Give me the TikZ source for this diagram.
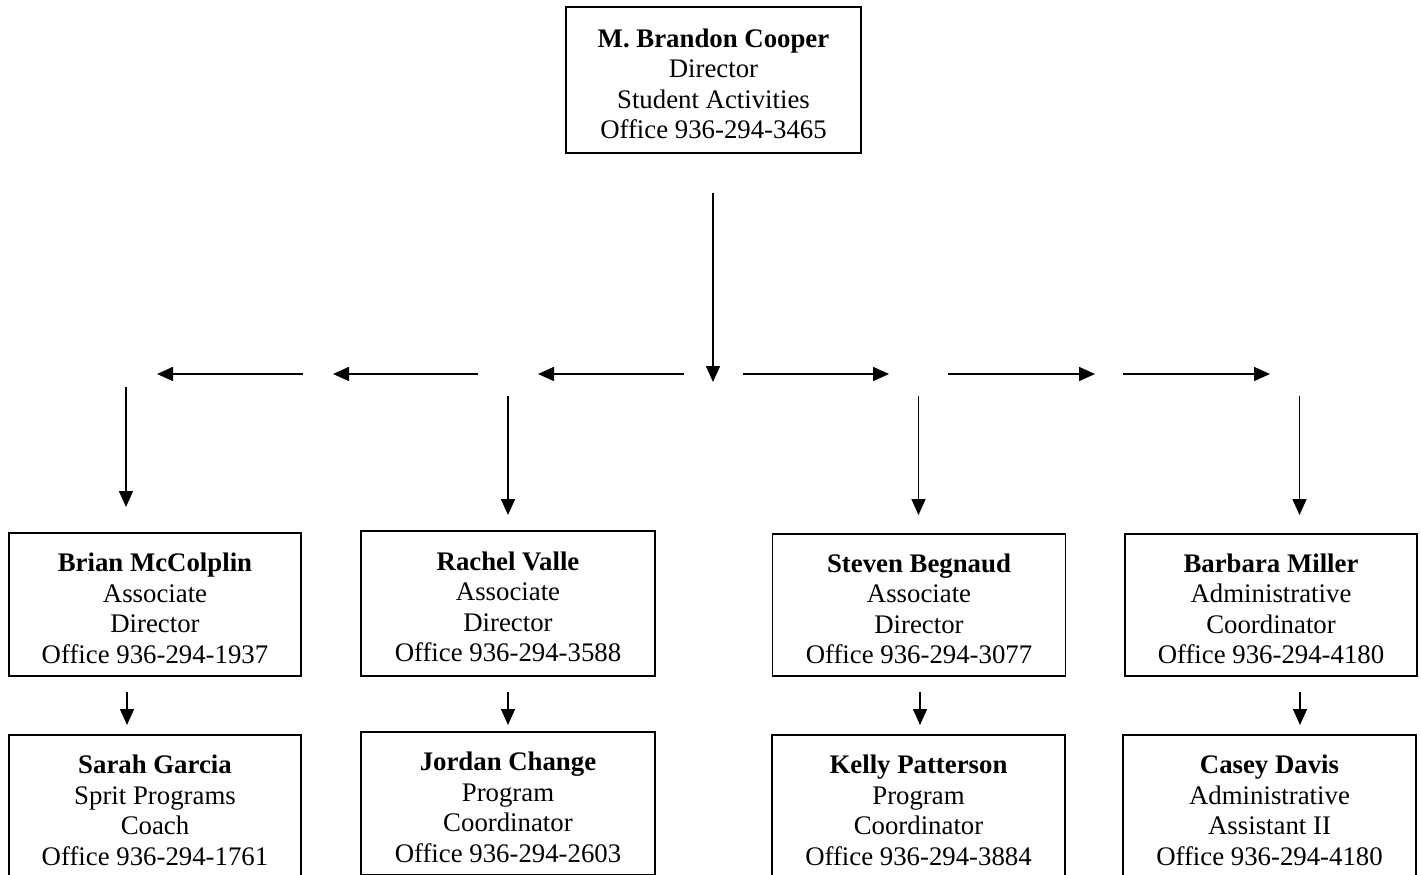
\documentclass[tikz,border=0pt]{standalone}
\usepackage{fontspec}
\setmainfont{Liberation Serif}
\usetikzlibrary{arrows.meta}
\newcommand{\nm}[1]{\rule{0pt}{26pt}\textbf{#1}}
\begin{document}
\begin{tikzpicture}[x=1pt,y=-1pt,
  box/.style={draw,line width=1.6pt,inner sep=0pt,align=center,
    font=\fontsize{26.8}{30.5}\selectfont,minimum height=143pt},
  arr/.style={line width=1.6pt,-{Triangle[length=16pt,width=14pt]}}]
\useasboundingbox (0,0) rectangle (1421,875);
\fill[white] (0,0) rectangle (1421,875);
% boxes
\node[box,minimum width=295pt,minimum height=146pt] (top) at (713.5,80) {\nm{M. Brandon Cooper}\\Director\\Student Activities\\Office 936-294-3465};
\node[box,minimum width=292pt] (brian) at (155,604.5) {\nm{Brian McColplin}\\Associate\\Director\\Office 936-294-1937};
\node[box,minimum width=294pt,minimum height=145pt] (rachel) at (508,603.3) {\nm{Rachel Valle}\\Associate\\Director\\Office 936-294-3588};
\node[box,minimum width=293pt,minimum height=142pt] (steven) at (919,605) {\nm{Steven Begnaud}\\Associate\\Director\\Office 936-294-3077};
\node[box,minimum width=292.5pt,minimum height=142pt] (barbara) at (1271,605) {\nm{Barbara Miller}\\Administrative\\Coordinator\\Office 936-294-4180};
\node[box,minimum width=292pt] (sarah) at (155,806.5) {\nm{Sarah Garcia}\\Sprit Programs\\Coach\\Office 936-294-1761};
\node[box,minimum width=294pt] (jordan) at (508,803.5) {\nm{Jordan Change}\\Program\\Coordinator\\Office 936-294-2603};
\node[box,minimum width=293pt] (kelly) at (918.5,806.5) {\nm{Kelly Patterson}\\Program\\Coordinator\\Office 936-294-3884};
\node[box,minimum width=293pt] (casey) at (1269.5,806.5) {\nm{Casey Davis}\\Administrative\\Assistant II\\Office 936-294-4180};
% arrow end points
\coordinate (t0) at (713,193); \coordinate (t1) at (713,382);
\coordinate (l10) at (303,374); \coordinate (l11) at (157,374);
\coordinate (l20) at (478,374); \coordinate (l21) at (333,374);
\coordinate (l30) at (684,374); \coordinate (l31) at (538,374);
\coordinate (r10) at (743,374); \coordinate (r11) at (889,374);
\coordinate (r20) at (948,374); \coordinate (r21) at (1095,374);
\coordinate (r30) at (1123,374); \coordinate (r31) at (1270,374);
\coordinate (v10) at (126,387); \coordinate (v11) at (126,507);
\coordinate (v20) at (508,396); \coordinate (v21) at (508,515);
\coordinate (v30) at (918.5,396); \coordinate (v31) at (918.5,515);
\coordinate (v40) at (1299.5,396); \coordinate (v41) at (1299.5,515);
\coordinate (s10) at (127,692); \coordinate (s11) at (127,725);
\coordinate (s20) at (508,692); \coordinate (s21) at (508,725);
\coordinate (s30) at (920,692); \coordinate (s31) at (920,725);
\coordinate (s40) at (1300,692); \coordinate (s41) at (1300,725);
% arrows
\foreach \p in {t,l1,l2,l3,r1,r2,r3,v1,v2,v3,v4,s1,s2,s3,s4}
  \draw[arr] (\p0) -- (\p1);
\end{tikzpicture}
\end{document}
